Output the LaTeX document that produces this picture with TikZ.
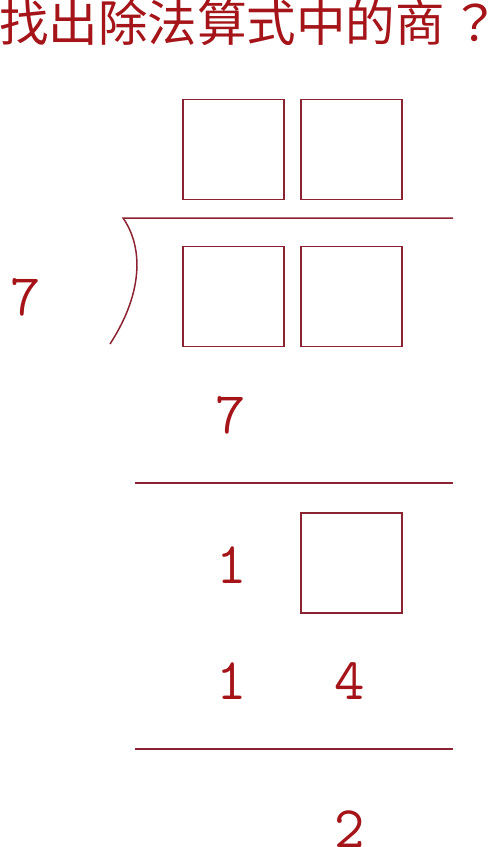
\documentclass[tikz,border=0pt]{standalone}
\usepackage{fontspec}
\newfontfamily\cjk{Noto Sans CJK TC}
\definecolor{txt}{RGB}{165,20,25}
\definecolor{ln}{RGB}{140,35,50}
\begin{document}
\begin{tikzpicture}[x=1pt,y=-1pt,
  digit/.style={inner sep=0pt,text=txt,font=\ttfamily\fontsize{59}{59}\selectfont},
  box/.style={draw=ln,line width=1.5pt,minimum width=101pt,minimum height=100pt,inner sep=0pt},
  rule/.style={draw=ln,line width=1.5pt}]
\useasboundingbox (0,0) rectangle (488,847);
\node[inner sep=0pt,anchor=west,text=txt,font=\cjk\fontsize{49.5}{49.5}\selectfont] (title) at (-1,23) {找出除法算式中的商\kern6pt？};
% quotient boxes
\node[box] (q1) at (233.5,149.5) {};
\node[box] (q2) at (351.5,149.5) {};
% division bracket
\coordinate (bt) at (123,218);
\coordinate (bb) at (110,344);
\draw[rule] (bb) .. controls (145,290) and (142,245) .. (bt) -- (453,218);
% dividend boxes
\node[box] (d1) at (233.5,296.5) {};
\node[box] (d2) at (351.5,296.5) {};
\node[digit] (div) at (26,297) {7};
\node[digit] (s1) at (231,415) {7};
\draw[rule] (135,483) -- (453,483);
\node[digit] (r1) at (232,565) {1};
\node[box] (r2) at (351.5,563) {};
\node[digit] (p1) at (232,681) {1};
\node[digit] (p2) at (350,681) {4};
\draw[rule] (135,749) -- (453,749);
\node[digit] (rem) at (350,829) {2};
\end{tikzpicture}
\end{document}
